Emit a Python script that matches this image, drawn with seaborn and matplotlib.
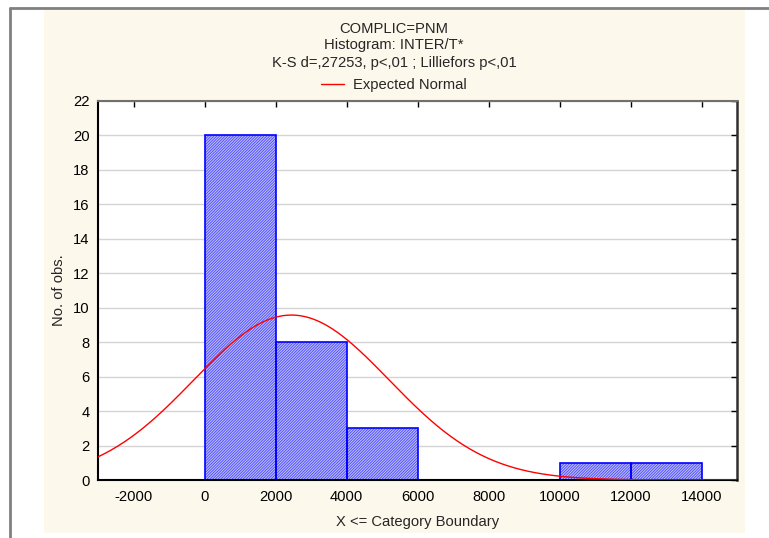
import numpy as np
import matplotlib
matplotlib.use("Agg")
import matplotlib.pyplot as plt
from matplotlib.patches import Rectangle
from matplotlib.lines import Line2D
import seaborn as sns

# ---- data ----
bin_edges = [0, 2000, 4000, 6000, 8000, 10000, 12000, 14000]
counts = [20, 8, 3, 0, 0, 1, 1]
x_ticks = [-2000, 0, 2000, 4000, 6000, 8000, 10000, 12000, 14000]
y_ticks = [0, 2, 4, 6, 8, 10, 12, 14, 16, 18, 20, 22]
normal_mean = 2450.0
normal_sd = 2750.0
title_lines = ["COMPLIC=PNM", "Histogram: INTER/T*",
               "K-S d=,27253, p<,01 ; Lilliefors p<,01"]

sns.set_style("white")
plt.rcParams['font.family'] = ['Liberation Sans', 'DejaVu Sans']
plt.rcParams['hatch.linewidth'] = 0.6
plt.rcParams['axes.unicode_minus'] = False
FS = 10.6

W, H = 769, 538
fig = plt.figure(figsize=(W / 100, H / 100), dpi=100)
fig.patch.set_facecolor('white')

# beige panel
fig.add_artist(Rectangle((44 / W, 1 - 533 / H), (745 - 44) / W, (533 - 9) / H,
                         transform=fig.transFigure, facecolor='#FDF8EC',
                         edgecolor='none', zorder=-2))
# outer gray border (top and left)
fig.add_artist(Line2D([10 / W, 1], [1 - 8 / H, 1 - 8 / H], transform=fig.transFigure,
                      color='#808080', lw=2, zorder=-1))
fig.add_artist(Line2D([10 / W, 10 / W], [0, 1 - 8 / H], transform=fig.transFigure,
                      color='#808080', lw=2, zorder=-1))

ax = fig.add_axes([98 / W, 1 - 480 / H, (737 - 98) / W, (480 - 101) / H])
ax.set_facecolor('white')

centers = [(a + b) / 2 for a, b in zip(bin_edges[:-1], bin_edges[1:])]
# hatched fill layer
sns.histplot(x=centers, weights=counts, bins=bin_edges, ax=ax, stat='count',
             element='bars', fill=True, color='#b8b8f8', alpha=1,
             edgecolor='#4848ff', linewidth=0, zorder=2)
n_fill = len(ax.patches)
for p in ax.patches:
    p.set_hatch('/' * 12)
    p.set_facecolor('#bcbcf8')
    p.set_edgecolor('#4848ff')
    p.set_linewidth(0)
    if p.get_height() == 0:
        p.set_visible(False)
# outline layer
sns.histplot(x=centers, weights=counts, bins=bin_edges, ax=ax, stat='count',
             element='bars', fill=False, edgecolor='#0000ff', linewidth=1.2, zorder=2.5)
for p in ax.patches[n_fill:]:
    p.set_edgecolor('#0000ff')
    if p.get_height() == 0:
        p.set_visible(False)

n_total = sum(counts)
bw = bin_edges[1] - bin_edges[0]
xs = np.linspace(-3000, 15000, 500)
ys = n_total * bw * np.exp(-0.5 * ((xs - normal_mean) / normal_sd) ** 2) / (normal_sd * np.sqrt(2 * np.pi))
sns.lineplot(x=xs, y=ys, ax=ax, color='#ff0000', lw=1, zorder=3)

ax.set_xlim(-3000, 15000)
ax.set_ylim(0, 22)
ax.set_xticks(x_ticks)
ax.set_yticks(y_ticks)
ax.yaxis.grid(True, color='#d4d4d4', lw=1)
ax.xaxis.grid(False)
ax.set_axisbelow(True)
ax.tick_params(direction='in', top=True, right=True, length=4, width=1,
               labelsize=FS, colors='#000000', pad=6)
ax.tick_params(axis='x', pad=7)
for s in ['left', 'bottom']:
    ax.spines[s].set_color('#000000')
    ax.spines[s].set_linewidth(1.5)
ax.spines['top'].set_color('#707070')
ax.spines['top'].set_linewidth(1.5)
ax.spines['right'].set_color('#303030')
ax.spines['right'].set_linewidth(1.8)

ax.set_xlabel("X <= Category Boundary", fontsize=FS, labelpad=8)
ax.set_ylabel("No. of obs.", fontsize=FS, labelpad=5)

xc = 394 / W
ys_title = [29, 45.5, 63.5]
for t, yy in zip(title_lines, ys_title):
    fig.text(xc, 1 - yy / H, t, ha='center', va='center', fontsize=FS)

handle = Line2D([], [], color='#ff0000', lw=1)
fig.legend([handle], ["Expected Normal"], loc='center', bbox_to_anchor=(xc, 1 - 85 / H),
           frameon=False, fontsize=FS, handlelength=1.6, handletextpad=0.6)

fig.savefig("out.png", dpi=100)
